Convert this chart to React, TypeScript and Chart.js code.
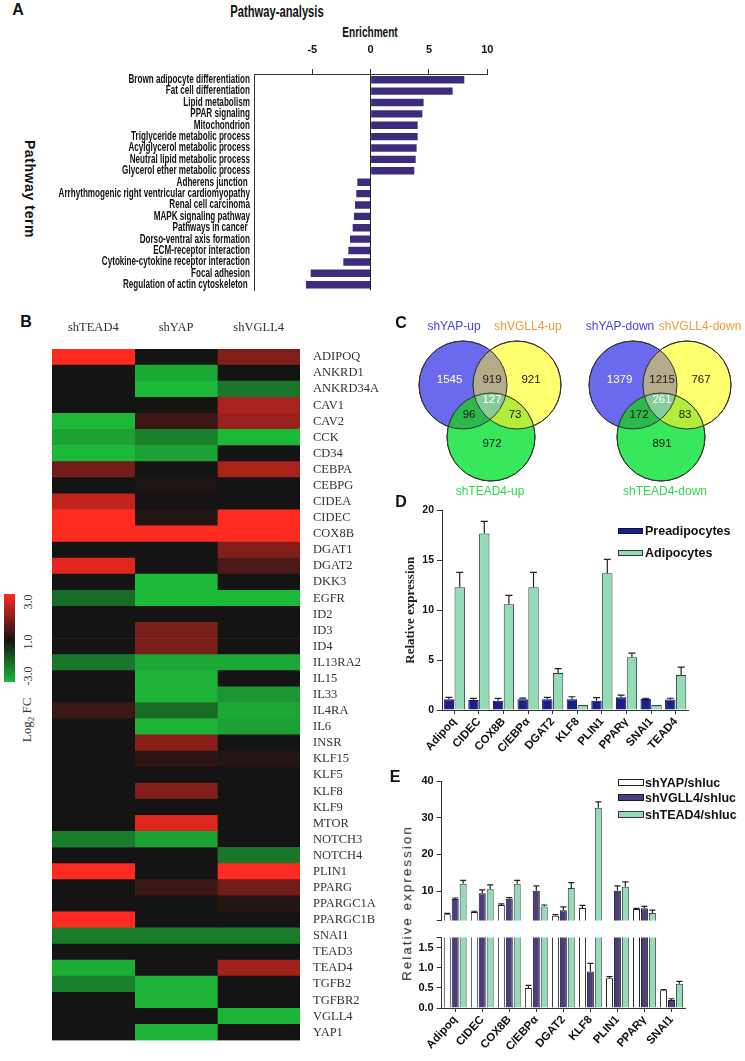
import React, { useEffect, useRef } from 'react';
import { Chart, registerables } from 'chart.js';

Chart.register(...registerables);

const SANS = '"Liberation Sans", Arial, sans-serif';
const SERIF = '"Liberation Serif", "Times New Roman", serif';

// ---------------- Panel A data ----------------
const pathwayTerms = [
  'Brown adipocyte differentiation',
  'Fat cell differentiation',
  'Lipid metabolism',
  'PPAR signaling',
  'Mitochondrion',
  'Triglyceride metabolic process',
  'Acylglycerol metabolic process',
  'Neutral lipid metabolic process',
  'Glycerol ether metabolic process',
  'Adherens junction ',
  'Arrhythmogenic right ventricular cardiomyopathy',
  'Renal cell carcinoma',
  'MAPK signaling pathway',
  'Pathways in cancer ',
  'Dorso-ventral axis formation',
  'ECM-receptor interaction',
  'Cytokine-cytokine receptor interaction',
  'Focal adhesion',
  'Regulation of actin cytoskeleton ',
];
const enrichment = [8.03, 7.03, 4.54, 4.43, 4.03, 4.03, 3.94, 3.86, 3.74, -1.14, -1.23, -1.34, -1.43, -1.54, -1.77, -1.91, -2.34, -5.14, -5.54];
const enrichmentTicks = [-5, 0, 5, 10];

// ---------------- Panel B data ----------------
const heatGenes = [
  'ADIPOQ', 'ANKRD1', 'ANKRD34A', 'CAV1', 'CAV2', 'CCK', 'CD34', 'CEBPA', 'CEBPG', 'CIDEA',
  'CIDEC', 'COX8B', 'DGAT1', 'DGAT2', 'DKK3', 'EGFR', 'ID2', 'ID3', 'ID4', 'IL13RA2',
  'IL15', 'IL33', 'IL4RA', 'IL6', 'INSR', 'KLF15', 'KLF5', 'KLF8', 'KLF9', 'MTOR',
  'NOTCH3', 'NOTCH4', 'PLIN1', 'PPARG', 'PPARGC1A', 'PPARGC1B', 'SNAI1', 'TEAD3', 'TEAD4', 'TGFB2',
  'TGFBR2', 'VGLL4', 'YAP1',
];
const heatColumns = ['shTEAD4', 'shYAP', 'shVGLL4'];
const fcTEAD4 = [3, 0, 0, 0, -3, -2.6, -3, 1.2, 0, 2.2, 3, 3, 0, 2.6, 0, -1.6, 0, 0, 0, -1.8, 0, 0, 0.5, 0, 0, 0, 0, 0, 0, 0, -1.9, 0, 3, 0, 0, 3, -1.9, 0, -2.8, -2, 0, 0, 0];
const fcYAP = [0, -2.7, -3, 0, 0.5, -2, -2.6, 0, 0.1, 0, 0.2, 3, 0, 0, -3, -3, 0, 1.3, 1.3, -2.7, -2.9, -2.9, -1.6, -2.9, 1.5, 0.3, 0, 1.4, 0, 2.6, -2.6, 0, 0, 0.5, 0, 0, -1.9, 0, 0, -2.9, -2.9, 0, -2.9];
const fcVGLL4 = [1.4, 0, -1.8, 1.9, 1.7, -3, 0, 1.9, 0, 0, 3, 3, 1.4, 0.7, 0, -3, 0, 0, 0, -2.7, 0, -2.4, -2.7, -2.6, 0, 0.2, 0, 0, 0, 0, 0, -1.8, 3, 1.2, 0.2, 0, -1.9, 0, 1.8, 0, 0, -2.9, 0];
const heatLegendTicks = ['3.0', '1.0', '-3.0'];

// ---------------- Panel C data ----------------
// order: YAP only, YAP∩VGLL4, VGLL4 only, all three, YAP∩TEAD4, VGLL4∩TEAD4, TEAD4 only
const vennUp = [1545, 919, 921, 127, 96, 73, 972];
const vennDown = [1379, 1215, 767, 261, 172, 83, 891];
const vennUpNames = ['shYAP-up', 'shVGLL4-up', 'shTEAD4-up'];
const vennDownNames = ['shYAP-down', 'shVGLL4-down', 'shTEAD4-down'];

// ---------------- Panel D data ----------------
const genesD = ['Adipoq', 'CIDEC', 'COX8B', 'C/EBPα', 'DGAT2', 'KLF8', 'PLIN1', 'PPARγ', 'SNAI1', 'TEAD4'];
const preadipocytes = [1.07, 1.0, 0.93, 1.07, 1.07, 1.07, 0.93, 1.27, 1.1, 1.05];
const preadipocytesErr = [0.2, 0.17, 0.24, 0.13, 0.2, 0.26, 0.32, 0.23, 0.08, 0.13];
const adipocytes = [12.3, 17.7, 10.6, 12.3, 3.7, 0.5, 13.7, 5.3, 0.5, 3.5];
const adipocytesErr = [1.5, 1.2, 0.9, 1.5, 0.45, 0, 1.4, 0.4, 0, 0.8];
const yTicksD = [0, 5, 10, 15, 20];

// ---------------- Panel E data ----------------
const genesE = ['Adipoq', 'CIDEC', 'COX8B', 'C/EBPα', 'DGAT2', 'KLF8', 'PLIN1', 'PPARγ', 'SNAI1'];
const shYAP = [3.7, 4.3, 6.2, 0.5, 3.3, 5.4, 0.74, 5.1, 0.44];
const shYAPErr = [0.2, 0.2, 0.3, 0.06, 0.3, 0.7, 0.04, 0.2, 0.02];
const shVGLL4 = [7.8, 9.4, 7.9, 10.1, 4.8, 0.91, 10.1, 5.3, 0.2];
const shVGLL4Err = [0.3, 0.9, 0.3, 1.3, 0.9, 0.2, 1.3, 0.5, 0.03];
const shTEAD4 = [12.0, 10.5, 12.0, 5.8, 10.8, 32.7, 11.2, 4.0, 0.6];
const shTEAD4Err = [0.9, 1.2, 0.9, 0.4, 1.5, 1.6, 1.3, 0.8, 0.06];
const yTicksETop = [2, 10, 20, 30, 40];
const yTicksEBottom = [0, 0.5, 1.0, 1.5, 1.75];

// ---------------- helpers ----------------
function fcColor(v: number): string {
  const t = Math.max(-1, Math.min(1, v / 3));
  const base = [20, 20, 20];
  const hi = t >= 0 ? [255, 42, 32] : [28, 184, 56];
  const a = Math.abs(t);
  const c = base.map((b, i) => Math.round(b + (hi[i] - b) * a));
  return `rgb(${c[0]},${c[1]},${c[2]})`;
}

const errorBarPlugin = {
  id: 'errorBars',
  afterDatasetsDraw(chart: any, _args: any, opts: any) {
    const { ctx, chartArea } = chart;
    const yScale = chart.scales.y;
    const cap = (opts && opts.cap) || 3;
    ctx.save();
    ctx.beginPath();
    ctx.rect(chartArea.left, chartArea.top - 1, chartArea.right - chartArea.left, chartArea.bottom - chartArea.top + 1);
    ctx.clip();
    ctx.strokeStyle = '#222';
    ctx.lineWidth = 1.2;
    chart.data.datasets.forEach((ds: any, di: number) => {
      const errs = ds.errors;
      if (!errs) return;
      const meta = chart.getDatasetMeta(di);
      meta.data.forEach((el: any, i: number) => {
        const e = errs[i];
        if (!e) return;
        const yTop = yScale.getPixelForValue(ds.data[i] + e);
        ctx.beginPath();
        ctx.moveTo(el.x, el.y);
        ctx.lineTo(el.x, yTop);
        ctx.moveTo(el.x - cap, yTop);
        ctx.lineTo(el.x + cap, yTop);
        ctx.stroke();
      });
    });
    ctx.restore();
  },
};

// Draws the category labels of panel A in a condensed face (the original uses a narrow font)
const condensedLabelsPlugin = {
  id: 'condensedLabels',
  afterDraw(chart: any, _args: any, opts: any) {
    const { ctx, chartArea } = chart;
    const yScale = chart.scales.y;
    const labels: string[] = chart.data.labels;
    ctx.save();
    ctx.fillStyle = '#111';
    ctx.font = `bold ${opts.size}px ${SANS}`;
    ctx.textAlign = 'right';
    ctx.textBaseline = 'middle';
    labels.forEach((lab, i) => {
      const y = yScale.getPixelForValue(i);
      ctx.save();
      ctx.translate(chartArea.left - opts.gap, y);
      ctx.scale(opts.squeeze, 1);
      ctx.fillText(lab, 0, 0);
      ctx.restore();
    });
    ctx.restore();
  },
};

// Venn layout (schematic geometry, px relative to each diagram centroid)
const VENN_W = 345;
const VENN_H = 160;
const VENN_ORIGINS = [[90.3, 67.3], [260.3, 67.3]];
const VENN_CIRCLES = [
  { dx: -27.3, dy: -17.3, r: 44 },
  { dx: 26.7, dy: -17.3, r: 44 },
  { dx: 0.7, dy: 34.7, r: 44 },
];
const VENN_FILLS = ['#6a6aee', '#ffff70', '#38e85c'];
const VENN_OVERLAPS = { by: '#b3ab8a', bg: '#2cb84a', yg: '#b4ec3c', all: '#86cc98' };
const VENN_LABEL_OFFSETS = [[-40.8, -22.3], [1.7, -22.3], [40.7, -22.3], [1.7, -2.3], [-21.3, 12.7], [24.7, 12.7], [1.7, 41.7]];
const VENN_TEXT_COLORS = ['#ffffff', '#1a1a1a', '#1a1a1a', '#ffffff', '#1a1a1a', '#1a1a1a', '#1a1a1a'];

const vennPlugin = {
  id: 'vennRegions',
  afterDatasetsDraw(chart: any) {
    const ctx = chart.ctx;
    const els = chart.getDatasetMeta(0).data;
    const groups = [vennUp, vennDown];
    groups.forEach((counts, g) => {
      const cs = [0, 1, 2].map((i) => {
        const el = els[g * 3 + i];
        return { x: el.x, y: el.y, r: el.options.radius };
      });
      const fillIntersect = (idx: number[], color: string) => {
        ctx.save();
        idx.forEach((i) => {
          ctx.beginPath();
          ctx.arc(cs[i].x, cs[i].y, cs[i].r, 0, Math.PI * 2);
          ctx.clip();
        });
        ctx.fillStyle = color;
        ctx.fillRect(0, 0, chart.width, chart.height);
        ctx.restore();
      };
      fillIntersect([0, 1], VENN_OVERLAPS.by);
      fillIntersect([0, 2], VENN_OVERLAPS.bg);
      fillIntersect([1, 2], VENN_OVERLAPS.yg);
      fillIntersect([0, 1, 2], VENN_OVERLAPS.all);
      ctx.save();
      ctx.strokeStyle = '#333';
      ctx.lineWidth = 1;
      cs.forEach((c) => {
        ctx.beginPath();
        ctx.arc(c.x, c.y, c.r, 0, Math.PI * 2);
        ctx.stroke();
      });
      const cx = (cs[0].x + cs[1].x + cs[2].x) / 3;
      const cy = (cs[0].y + cs[1].y + cs[2].y) / 3;
      ctx.font = `11.5px ${SANS}`;
      ctx.textAlign = 'center';
      ctx.textBaseline = 'middle';
      counts.forEach((n, k) => {
        ctx.fillStyle = VENN_TEXT_COLORS[k];
        ctx.fillText(String(n), cx + VENN_LABEL_OFFSETS[k][0], cy + VENN_LABEL_OFFSETS[k][1]);
      });
      ctx.restore();
    });
  },
};

// ---------------- chart configs ----------------
function pathwayConfig(): any {
  return {
    type: 'bar',
    data: {
      labels: pathwayTerms,
      datasets: [{ data: enrichment, backgroundColor: '#3d2b7e', borderWidth: 0, barPercentage: 0.65, categoryPercentage: 1 }],
    },
    options: {
      indexAxis: 'y',
      animation: false,
      responsive: false,
      devicePixelRatio: 1,
      events: [],
      layout: { padding: { left: 0, right: 67.7, top: 0, bottom: 9.6 } },
      plugins: { legend: { display: false }, tooltip: { enabled: false }, condensedLabels: { size: 12.2, squeeze: 0.665, gap: 4 } },
      scales: {
        x: {
          type: 'linear',
          position: 'top',
          min: -10,
          max: 10,
          afterBuildTicks: (s: any) => { s.ticks = enrichmentTicks.map((v) => ({ value: v })); },
          afterFit: (s: any) => { s.height = 74; },
          grid: {
            color: (c: any) => (c.tick && c.tick.value === 0 ? '#222' : 'rgba(0,0,0,0)'),
            tickColor: '#333',
            tickLength: 5,
            drawTicks: true,
          },
          border: { display: true, color: '#333', width: 1 },
          ticks: { color: '#111', font: { family: SANS, size: 11, weight: 'bold' }, padding: 12 },
        },
        y: {
          position: 'left',
          afterFit: (s: any) => { s.width = 254; },
          grid: { display: false, drawTicks: false },
          border: { display: true, color: '#333', width: 1 },
          ticks: { display: false, autoSkip: false },
        },
      },
    },
    plugins: [condensedLabelsPlugin],
  };
}

function heatmapConfig(): any {
  const cols = [fcTEAD4, fcYAP, fcVGLL4];
  return {
    type: 'bar',
    data: {
      labels: heatGenes,
      datasets: heatColumns.map((name, ci) => ({
        label: name,
        data: heatGenes.map(() => 1),
        backgroundColor: cols[ci].map(fcColor),
        borderWidth: 0,
        barPercentage: 1,
        categoryPercentage: 1,
      })),
    },
    options: {
      indexAxis: 'y',
      animation: false,
      responsive: false,
      devicePixelRatio: 1,
      events: [],
      layout: { padding: { left: 12, right: 0, top: 0, bottom: 3 } },
      plugins: { legend: { display: false }, tooltip: { enabled: false } },
      scales: {
        x: {
          type: 'linear',
          stacked: true,
          position: 'top',
          min: 0,
          max: 3,
          afterBuildTicks: (s: any) => { s.ticks = [0.5, 1.5, 2.5].map((v) => ({ value: v })); },
          afterFit: (s: any) => { s.height = 34; },
          grid: { display: false, drawTicks: false },
          border: { display: false },
          ticks: { callback: (_v: any, i: number) => heatColumns[i], color: '#333', font: { family: SERIF, size: 12.5 }, padding: 14 },
        },
        y: {
          stacked: true,
          position: 'right',
          afterFit: (s: any) => { s.width = 100; },
          grid: { display: false, drawTicks: false },
          border: { display: false },
          ticks: { autoSkip: false, color: '#333', font: { family: SERIF, size: 12.5 }, padding: 13 },
        },
      },
    },
  };
}

function vennConfig(): any {
  const pts: any[] = [];
  const colors: string[] = [];
  VENN_ORIGINS.forEach((o) => VENN_CIRCLES.forEach((c, i) => {
    pts.push({ x: o[0] + c.dx, y: o[1] + c.dy, r: c.r });
    colors.push(VENN_FILLS[i]);
  }));
  return {
    type: 'bubble',
    data: { datasets: [{ data: pts, backgroundColor: colors, borderColor: '#333', borderWidth: 1, clip: false }] },
    options: {
      animation: false,
      responsive: false,
      devicePixelRatio: 1,
      events: [],
      layout: { padding: 0, autoPadding: false },
      plugins: { legend: { display: false }, tooltip: { enabled: false } },
      scales: {
        x: { type: 'linear', display: false, min: 0, max: VENN_W },
        y: { type: 'linear', display: false, min: 0, max: VENN_H, reverse: true },
      },
    },
    plugins: [vennPlugin],
  };
}

function xAxisQ(height: number): any {
  return {
    afterFit: (s: any) => { s.height = height; },
    grid: { offset: false, drawOnChartArea: false, tickLength: 4, color: '#333' },
    border: { color: '#333', width: 1 },
    ticks: { autoSkip: false, minRotation: 48, maxRotation: 48, color: '#111', font: { family: SANS, size: 11.5, weight: 'bold' }, padding: 1 },
  };
}

function qpcrDConfig(): any {
  return {
    type: 'bar',
    data: {
      labels: genesD,
      datasets: [
        { label: 'Preadipocytes', data: preadipocytes, errors: preadipocytesErr, backgroundColor: '#1b1f8a', borderColor: '#10104a', borderWidth: 1 },
        { label: 'Adipocytes', data: adipocytes, errors: adipocytesErr, backgroundColor: '#93dcb7', borderColor: '#2f3d35', borderWidth: 1 },
      ],
    },
    options: {
      animation: false,
      responsive: false,
      devicePixelRatio: 1,
      events: [],
      datasets: { bar: { categoryPercentage: 0.88, barPercentage: 0.96 } },
      layout: { padding: { top: 10.5, right: 11, left: 0, bottom: 0 } },
      plugins: { legend: { display: false }, tooltip: { enabled: false }, errorBars: { cap: 3.5 } },
      scales: {
        x: xAxisQ(70),
        y: {
          min: 0,
          max: 20,
          afterFit: (s: any) => { s.width = 43; },
          afterBuildTicks: (s: any) => { s.ticks = yTicksD.map((v) => ({ value: v })); },
          grid: { drawOnChartArea: false, tickLength: 5, color: '#333' },
          border: { color: '#333', width: 1 },
          ticks: { color: '#111', font: { family: SANS, size: 10.5, weight: 'bold' }, padding: 3 },
          title: { display: true, text: 'Relative expression', color: '#222', font: { family: SERIF, size: 13, weight: 'bold' }, padding: { top: 4, bottom: 0 } },
        },
      },
    },
    plugins: [errorBarPlugin],
  };
}

function qpcrEDatasets(): any[] {
  return [
    { label: 'shYAP/shluc', data: shYAP, errors: shYAPErr, backgroundColor: '#ffffff', borderColor: '#222', borderWidth: 1 },
    { label: 'shVGLL4/shluc', data: shVGLL4, errors: shVGLL4Err, backgroundColor: '#4b3f7a', borderColor: '#1e1838', borderWidth: 1 },
    { label: 'shTEAD4/shluc', data: shTEAD4, errors: shTEAD4Err, backgroundColor: '#93dcb7', borderColor: '#2f3d35', borderWidth: 1 },
  ];
}

function qpcrEConfig(part: 'top' | 'bottom'): any {
  const top = part === 'top';
  const ticks = top ? yTicksETop : yTicksEBottom;
  return {
    type: 'bar',
    data: { labels: genesE, datasets: qpcrEDatasets() },
    options: {
      animation: false,
      responsive: false,
      devicePixelRatio: 1,
      events: [],
      datasets: { bar: { categoryPercentage: 0.88, barPercentage: 0.88 } },
      layout: { padding: top ? { top: 11, right: 14, left: 0, bottom: 2.4 } : { top: 7, right: 14, left: 0, bottom: 0 } },
      plugins: { legend: { display: false }, tooltip: { enabled: false }, errorBars: { cap: 3 } },
      scales: {
        x: top ? { display: false } : xAxisQ(53),
        y: {
          min: top ? 2 : 0,
          max: top ? 40 : 1.75,
          afterFit: (s: any) => { s.width = 61.7; },
          afterBuildTicks: (s: any) => { s.ticks = ticks.map((v) => ({ value: v })); },
          grid: { drawOnChartArea: false, tickLength: 5, color: '#333' },
          border: { color: '#333', width: 1 },
          ticks: {
            color: '#111',
            font: { family: SANS, size: 11, weight: 'bold' },
            padding: 3,
            callback: (v: number) => (v === ticks[0] && top) || (v === ticks[ticks.length - 1] && !top) ? '' : top ? String(v) : v.toFixed(1),
          },
        },
      },
    },
    plugins: [errorBarPlugin],
  };
}

// ---------------- components ----------------
function ChartBox(props: { left: number; top: number; width: number; height: number; make: () => any }) {
  const ref = useRef<HTMLCanvasElement>(null);
  useEffect(() => {
    const chart = new Chart(ref.current as HTMLCanvasElement, props.make());
    return () => chart.destroy();
  }, []);
  const { left, top, width, height } = props;
  return (
    <div style={{ position: 'absolute', left, top, width, height }}>
      <canvas ref={ref} width={width} height={height} style={{ width, height, display: 'block' }} />
    </div>
  );
}

function T(props: { x: number; y: number; rotate?: number; sx?: number; style?: React.CSSProperties; children: React.ReactNode }) {
  const { x, y, rotate, sx, style, children } = props;
  return (
    <div
      style={{
        position: 'absolute',
        left: x,
        top: y,
        transform: `translate(-50%, -50%)${rotate ? ` rotate(${rotate}deg)` : ''}${sx ? ` scaleX(${sx})` : ''}`,
        whiteSpace: 'nowrap',
        lineHeight: 1,
        ...style,
      }}
    >
      {children}
    </div>
  );
}

function Box(props: { x: number; y: number; w: number; h: number; fill: string; border: string }) {
  return (
    <div
      style={{
        position: 'absolute',
        left: props.x,
        top: props.y,
        width: props.w,
        height: props.h,
        background: props.fill,
        border: `1px solid ${props.border}`,
        boxSizing: 'border-box',
      }}
    />
  );
}

const letter: React.CSSProperties = { fontFamily: SANS, fontWeight: 'bold', fontSize: 16, color: '#111' };
const legendText: React.CSSProperties = { position: 'absolute', left: 645, fontFamily: SANS, fontWeight: 'bold', fontSize: 12.5, color: '#111', whiteSpace: 'nowrap', lineHeight: '16px' };

export default function App() {
  const legendGradient = `linear-gradient(to bottom, ${fcColor(3)} 0%, ${fcColor(0)} 52%, ${fcColor(-3)} 100%)`;
  return (
    <div style={{ position: 'absolute', left: 0, top: 0, width: 745, height: 1061, background: '#fff', overflow: 'hidden' }}>
      {/* Panel A */}
      <T x={18} y={10} style={letter}>A</T>
      <T x={277} y={12} sx={0.7} style={{ fontFamily: SANS, fontWeight: 'bold', fontSize: 16, color: '#111' }}>Pathway-analysis</T>
      <T x={370} y={32} sx={0.72} style={{ fontFamily: SANS, fontWeight: 'bold', fontSize: 14, color: '#111' }}>Enrichment</T>
      <T x={30} y={189} rotate={90} style={{ fontFamily: SANS, fontWeight: 'bold', fontSize: 14, letterSpacing: 0.6, color: '#111' }}>Pathway term</T>
      <ChartBox left={0} top={0} width={555} height={300} make={pathwayConfig} />

      {/* Panel B */}
      <T x={26} y={322} style={letter}>B</T>
      <ChartBox left={40} top={315} width={360} height={746} make={heatmapConfig} />
      <div style={{ position: 'absolute', left: 4, top: 594, width: 11, height: 88, background: legendGradient }} />
      <T x={28} y={602} rotate={-90} style={{ fontFamily: SERIF, fontSize: 12, color: '#333' }}>{heatLegendTicks[0]}</T>
      <T x={28} y={642} rotate={-90} style={{ fontFamily: SERIF, fontSize: 12, color: '#333' }}>{heatLegendTicks[1]}</T>
      <T x={28} y={676} rotate={-90} style={{ fontFamily: SERIF, fontSize: 12, color: '#333' }}>{heatLegendTicks[2]}</T>
      <T x={28} y={720} rotate={-90} style={{ fontFamily: SERIF, fontSize: 13, color: '#333' }}>
        Log<sub style={{ fontSize: 9 }}>2</sub> FC
      </T>

      {/* Panel C */}
      <T x={401} y={323} style={letter}>C</T>
      <ChartBox left={400} top={335} width={VENN_W} height={VENN_H} make={vennConfig} />
      <T x={454} y={326} style={{ fontFamily: SANS, fontSize: 12, color: '#4545d5' }}>{vennUpNames[0]}</T>
      <T x={528} y={326} style={{ fontFamily: SANS, fontSize: 12, color: '#f29a3c' }}>{vennUpNames[1]}</T>
      <T x={490} y={491} style={{ fontFamily: SANS, fontSize: 12, color: '#2fd84c' }}>{vennUpNames[2]}</T>
      <T x={620} y={326} style={{ fontFamily: SANS, fontSize: 12, color: '#4545d5' }}>{vennDownNames[0]}</T>
      <T x={700} y={326} style={{ fontFamily: SANS, fontSize: 12, color: '#f29a3c' }}>{vennDownNames[1]}</T>
      <T x={665} y={491} style={{ fontFamily: SANS, fontSize: 12, color: '#2fd84c' }}>{vennDownNames[2]}</T>

      {/* Panel D */}
      <T x={401} y={502} style={letter}>D</T>
      <ChartBox left={399} top={500} width={300} height={280} make={qpcrDConfig} />
      <Box x={618} y={528} w={25} h={6} fill="#1b1f8a" border="#10104a" />
      <div style={{ ...legendText, top: 523 }}>Preadipocytes</div>
      <Box x={618} y={550} w={25} h={6} fill="#93dcb7" border="#2f3d35" />
      <div style={{ ...legendText, top: 545 }}>Adipocytes</div>

      {/* Panel E */}
      <T x={395} y={777} style={letter}>E</T>
      <ChartBox left={380} top={770} width={319} height={160} make={() => qpcrEConfig('top')} />
      <ChartBox left={380} top={928} width={319} height={133} make={() => qpcrEConfig('bottom')} />
      <T x={407} y={903} rotate={-90} style={{ fontFamily: SANS, fontSize: 13.5, letterSpacing: 2, color: '#222' }}>Relative expression</T>
      <Box x={618} y={779} w={26} h={7} fill="#ffffff" border="#222" />
      <div style={{ ...legendText, top: 775 }}>shYAP/shluc</div>
      <Box x={618} y={794} w={26} h={7} fill="#4b3f7a" border="#1e1838" />
      <div style={{ ...legendText, top: 790 }}>shVGLL4/shluc</div>
      <Box x={618} y={811} w={26} h={7} fill="#93dcb7" border="#2f3d35" />
      <div style={{ ...legendText, top: 807 }}>shTEAD4/shluc</div>
    </div>
  );
}
